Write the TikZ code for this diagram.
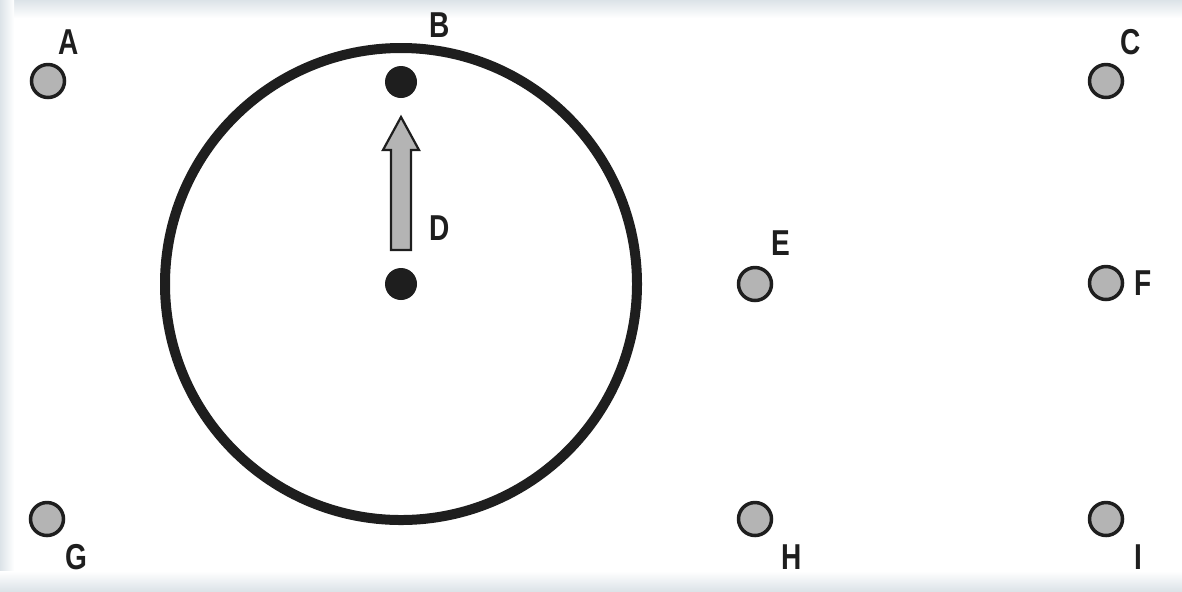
\documentclass[tikz,border=0pt]{standalone}
\usepackage{fontspec}
\setmainfont{Liberation Sans}[FakeStretch=0.78]
\definecolor{edge}{HTML}{DCE3E8}
\definecolor{pegfill}{HTML}{B4B4B4}
\definecolor{ink}{HTML}{1E1E1E}

\begin{document}
\begin{tikzpicture}[x=0.5pt, y=-0.5pt, font=\bfseries\fontsize{18}{20}\selectfont, text=ink,
  peg/.style={circle, draw=ink, line width=1.75pt, fill=pegfill, inner sep=0pt, minimum size=16.5pt},
  pin/.style={circle, fill=ink, inner sep=0pt, minimum size=16pt},
  tag/.style={inner sep=0pt}]
\useasboundingbox (0,0) rectangle (1182,591);
% frame
\shade[top color=edge, bottom color=white] (0,0) rectangle (1182,18);
\shade[left color=edge, right color=white] (0,0) rectangle (14,591);
\shade[top color=white, bottom color=edge] (0,571) rectangle (1182,591);
% dial
\node[circle, draw=ink, line width=5pt, inner sep=0pt, minimum size=236pt] (dial) at (401,284) {};
\node[pin] (top) at (401,82) {};
\node[pin] (mid) at (401,284) {};
% push arrow
\draw[ink, fill=pegfill, line width=1.1pt, line join=miter]
  (391,250) -- (391,150) -- (383,150) -- (401,117) -- (419,150) -- (411,150) -- (411,250) -- cycle;
% pegs
\node[peg] (a) at (48,81) {};
\node[peg] (c) at (1106,81) {};
\node[peg] (e) at (755,284) {};
\node[peg] (f) at (1106,283) {};
\node[peg] (g) at (47,519) {};
\node[peg] (h) at (755,519) {};
\node[peg] (i) at (1106,519) {};
% letters
\node[tag] (la) at (69,42) {A};
\node[tag] (lb) at (440,25) {B};
\node[tag] (lc) at (1131,42) {C};
\node[tag] (ld) at (440,228) {D};
\node[tag] (le) at (781,243) {E};
\node[tag] (lf) at (1143,283) {F};
\node[tag] (lg) at (76,557) {G};
\node[tag] (lh) at (792,557) {H};
\node[tag] (li) at (1138,557) {I};
\end{tikzpicture}
\end{document}
